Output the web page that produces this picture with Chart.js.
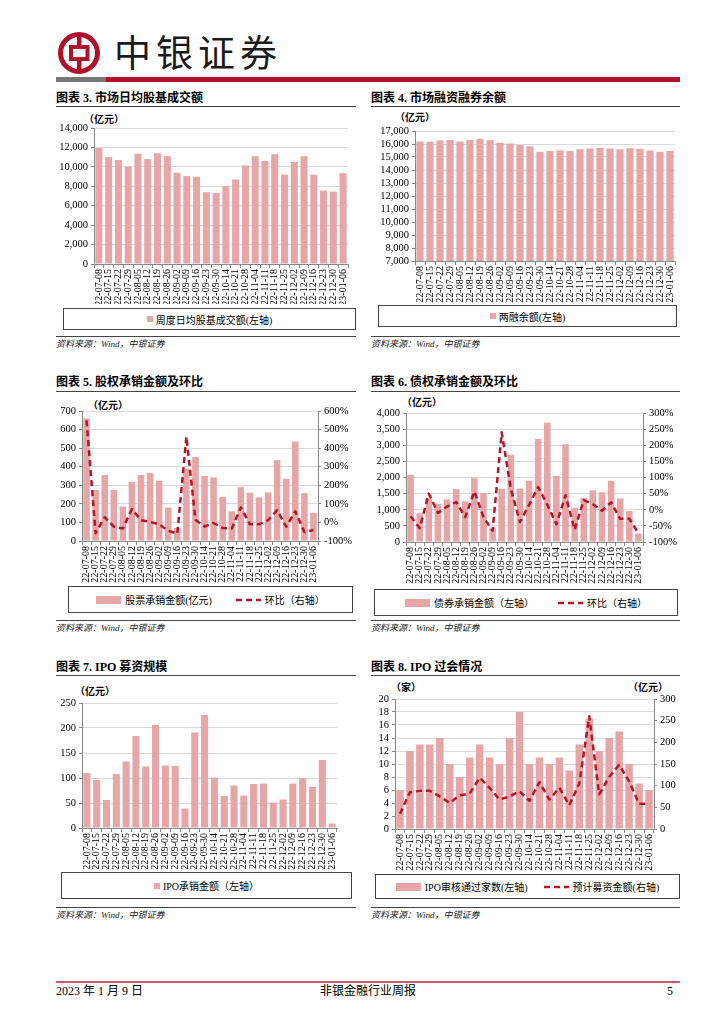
<!DOCTYPE html>
<html>
<head>
<meta charset="utf-8">
<script src="https://cdn.jsdelivr.net/npm/chart.js@4.4.0/dist/chart.umd.min.js"></script>
<style>
body{margin:0;width:724px;height:1024px;position:relative;background:#fff;overflow:hidden;
  font-family:"Liberation Serif","Noto Sans CJK SC",serif;color:#000}
.abs{position:absolute}
.title{font-weight:bold;font-size:12px;line-height:14px;white-space:nowrap}
.rule{height:0;border-top:1px solid #444}
.unit{font-size:10px;font-weight:bold;line-height:12px;white-space:nowrap}
.legend{border:1px solid #444;display:flex;align-items:center;justify-content:center;font-size:10px;box-sizing:border-box;white-space:nowrap}
.legend .sq{display:inline-block;width:6px;height:6px;background:#E6A5A6;margin-right:3px}
.legend .bar{display:inline-block;width:25px;height:8px;background:#E6A5A6;margin-right:4px}
.legend .gap{display:inline-block;width:24px}
.src{font-style:italic;font-size:9px;line-height:11px;color:#222;white-space:nowrap}
canvas{position:absolute}
</style>
</head>
<body>

<!-- header -->
<svg class="abs" style="left:56px;top:30px" width="48" height="46" viewBox="0 0 48 46">
  <circle cx="23" cy="23" r="18.5" fill="none" stroke="#B0102C" stroke-width="5"/>
  <rect x="21" y="3" width="4.5" height="40" fill="#B0102C"/>
  <rect x="15" y="17" width="16.5" height="12" fill="#fff" stroke="#B0102C" stroke-width="4"/>
</svg>
<div class="abs" style="left:114px;top:30px;font-size:37px;line-height:42px;letter-spacing:5px;color:#1a1a1a;font-family:'Noto Sans CJK SC'">中银证券</div>
<div class="abs" style="left:56px;top:77px;width:50px;height:5px;background:#777"></div>
<div class="abs" style="left:106px;top:77px;width:574px;height:5px;background:#B0102C"></div>

<!-- titles -->
<div class="abs title" style="left:56px;top:91px">图表 3. 市场日均股基成交额</div>
<div class="abs title" style="left:371px;top:91px">图表 4. 市场融资融券余额</div>
<div class="abs title" style="left:56px;top:375px">图表 5. 股权承销金额及环比</div>
<div class="abs title" style="left:371px;top:375px">图表 6. 债权承销金额及环比</div>
<div class="abs title" style="left:56px;top:660px">图表 7. IPO 募资规模</div>
<div class="abs title" style="left:371px;top:660px">图表 8. IPO 过会情况</div>
<div class="abs rule" style="left:56px;top:106px;width:300px"></div>
<div class="abs rule" style="left:371px;top:106px;width:309px"></div>
<div class="abs rule" style="left:56px;top:391px;width:300px"></div>
<div class="abs rule" style="left:371px;top:391px;width:309px"></div>
<div class="abs rule" style="left:56px;top:675px;width:300px"></div>
<div class="abs rule" style="left:371px;top:675px;width:309px"></div>

<!-- units -->
<div class="abs unit" style="left:84px;top:114px">（亿元）</div>
<div class="abs unit" style="left:395px;top:112px">（亿元）</div>
<div class="abs unit" style="left:88px;top:400px">（亿元）</div>
<div class="abs unit" style="left:402px;top:397px">（亿元）</div>
<div class="abs unit" style="left:75px;top:686px">（亿元）</div>
<div class="abs unit" style="left:391px;top:682px">（家）</div>
<div class="abs unit" style="left:628px;top:682px">（亿元）</div>

<canvas id="c3" width="310" height="194" style="left:50px;top:110px"></canvas>
<canvas id="c4" width="320" height="193" style="left:365px;top:110px"></canvas>
<canvas id="c5" width="310" height="188" style="left:50px;top:395px"></canvas>
<canvas id="c6" width="320" height="189" style="left:365px;top:395px"></canvas>
<canvas id="c7" width="310" height="189" style="left:50px;top:680px"></canvas>
<canvas id="c8" width="320" height="192" style="left:365px;top:680px"></canvas>

<!-- legends -->
<div class="abs legend" style="left:63px;top:308px;width:293px;height:22px"><span class="sq"></span>周度日均股基成交额(左轴)</div>
<div class="abs legend" style="left:378px;top:305px;width:299px;height:22px"><span class="sq"></span>两融余额(左轴)</div>
<div class="abs legend" style="left:68px;top:586px;width:285px;height:27px"><span class="bar"></span>股票承销金额(亿元)<span class="gap"></span>
  <svg width="25" height="6" style="margin-right:4px"><line x1="0" y1="3" x2="25" y2="3" stroke="#B5152B" stroke-width="2.5" stroke-dasharray="6 4"/></svg>环比（右轴）</div>
<div class="abs legend" style="left:374px;top:589px;width:304px;height:27px"><span class="bar"></span>债券承销金额（左轴）<span class="gap"></span>
  <svg width="25" height="6" style="margin-right:4px"><line x1="0" y1="3" x2="25" y2="3" stroke="#B5152B" stroke-width="2.5" stroke-dasharray="6 4"/></svg>环比（右轴）</div>
<div class="abs legend" style="left:61px;top:872px;width:291px;height:27px"><span class="sq"></span>IPO承销金额（左轴）</div>
<div class="abs legend" style="left:375px;top:874px;width:305px;height:25px"><span class="bar"></span>IPO审核通过家数(左轴)<span class="gap" style="width:16px"></span>
  <svg width="25" height="6" style="margin-right:4px"><line x1="0" y1="3" x2="25" y2="3" stroke="#B5152B" stroke-width="2.5" stroke-dasharray="6 4"/></svg>预计募资金额(右轴)</div>

<!-- sources -->
<div class="abs rule" style="left:56px;top:336px;width:300px"></div>
<div class="abs rule" style="left:371px;top:336px;width:309px"></div>
<div class="abs rule" style="left:56px;top:620px;width:300px"></div>
<div class="abs rule" style="left:371px;top:620px;width:309px"></div>
<div class="abs rule" style="left:56px;top:907px;width:300px"></div>
<div class="abs rule" style="left:371px;top:907px;width:309px"></div>
<div class="abs src" style="left:56px;top:339px">资料来源：Wind，中银证券</div>
<div class="abs src" style="left:371px;top:339px">资料来源：Wind，中银证券</div>
<div class="abs src" style="left:56px;top:623px">资料来源：Wind，中银证券</div>
<div class="abs src" style="left:371px;top:623px">资料来源：Wind，中银证券</div>
<div class="abs src" style="left:56px;top:910px">资料来源：Wind，中银证券</div>
<div class="abs src" style="left:371px;top:910px">资料来源：Wind，中银证券</div>

<!-- footer -->
<div class="abs" style="left:56px;top:981px;width:624px;height:2px;background:#C8606C"></div>
<div class="abs" style="left:56px;top:984px;font-size:12px;line-height:14px">2023 年 1 月 9 日</div>
<div class="abs" style="left:320px;top:984px;font-size:12px;line-height:14px">非银金融行业周报</div>
<div class="abs" style="left:667px;top:984px;font-size:12px;line-height:14px">5</div>

<script>
var weeks = ['22-07-08','22-07-15','22-07-22','22-07-29','22-08-05','22-08-12','22-08-19','22-08-26',
  '22-09-02','22-09-09','22-09-16','22-09-23','22-09-30','22-10-14','22-10-21','22-10-28',
  '22-11-04','22-11-11','22-11-18','22-11-25','22-12-02','22-12-09','22-12-16','22-12-23',
  '22-12-30','23-01-06'];

// 图表3 周度日均股基成交额（亿元）
var turnover = [11950,11000,10700,10000,11350,10800,11400,11100,9400,9050,8980,7400,7320,8000,
  8700,10150,11100,10600,11300,9200,10500,11100,9200,7550,7450,9350];
// 图表4 两融余额（亿元）
var margin = [16200,16170,16260,16300,16200,16300,16400,16290,16100,16030,15920,15800,15400,15460,
  15520,15460,15600,15660,15710,15650,15600,15680,15640,15500,15400,15470];
// 图表5 股票承销金额（亿元）及环比（%）
var equityAmt = [660,275,355,275,185,318,355,366,325,180,70,390,452,350,342,238,160,290,260,235,
  262,435,335,535,258,152];
var equityQoq = [550,-58,28,-22,-33,72,12,3,-11,-45,-61,462,15,-22,-3,-30,-33,81,-10,-10,12,66,
  -23,60,-52,-41];
// 图表6 债券承销金额（亿元）及环比（%）
var bondAmt = [2080,890,1330,1190,1320,1640,1260,1980,1520,450,1650,2700,1660,1900,3200,3700,2050,
  3030,1060,1370,1600,1540,1900,1350,960,260];
var bondQoq = [-20,-57,50,-10,10,24,-23,57,-23,-65,240,65,-38,15,70,16,-45,45,-62,30,17,-3,23,
  -28,-28,-73];
// 图表7 IPO承销金额（亿元）
var ipoAmt = [110,96,56,108,133,184,123,206,125,124,39,191,226,101,64,85,65,88,89,51,57,89,100,
  82,136,9];
// 图表8 IPO审核通过家数 / 预计募资金额（亿元）
var ipoCount = [6,12,13,13,14,10,8,11,13,11,10,14,18,10,11,10,11,9,13,17,12,14,15,10,7,6];
var ipoRaise = [35,85,88,88,75,60,78,82,118,95,68,75,87,65,108,68,95,55,105,260,80,120,148,110,
  58,58];

var BAR = '#E6A5A6';
var LINE = '#B5152B';
var AXIS = '#888';

Chart.defaults.font.family = '"Liberation Serif", "Noto Sans CJK SC", serif';
Chart.defaults.font.size = 10;
Chart.defaults.color = '#000';

function comma(v) { return v.toLocaleString('en-US'); }
function pct(v) { return v + '%'; }

function xAxis(h) {
	return {
		ticks: { autoSkip: false, maxRotation: 90, minRotation: 90, padding: 1, font: { size: 10 } },
		grid: { display: true, drawOnChartArea: false, tickLength: 4, color: AXIS },
		border: { color: AXIS },
		afterFit: function(s) { s.height = h; }
	};
}

function yAxis(w, min, max, step, fmt, pos, grid) {
	return {
		position: pos,
		min: min, max: max,
		ticks: { stepSize: step, autoSkip: false, padding: 3, callback: fmt, font: { size: 10.5 } },
		grid: { display: true, drawOnChartArea: grid, color: '#d9d9d9', tickLength: 3, tickColor: AXIS },
		border: { color: AXIS },
		afterFit: function(s) { s.width = w; }
	};
}

function barSet(data, pct) {
	return { type: 'bar', data: data, backgroundColor: BAR, barPercentage: pct, categoryPercentage: 1, order: 2, yAxisID: 'y' };
}

function lineSet(data) {
	return { type: 'line', data: data, borderColor: LINE, borderWidth: 2.5, borderDash: [6, 4],
		borderJoinStyle: 'round', pointRadius: 0, tension: 0, fill: false, order: 1, yAxisID: 'y1' };
}

function draw(id, datasets, scales, padding) {
	new Chart(document.getElementById(id).getContext('2d'), {
		type: 'bar',
		data: { labels: weeks, datasets: datasets },
		options: {
			responsive: false,
			animation: false,
			layout: { padding: padding },
			plugins: { legend: { display: false }, tooltip: { enabled: false } },
			scales: scales
		}
	});
}

draw('c3', [barSet(turnover, 0.72)],
	{ x: xAxis(40), y: yAxis(44, 0, 14000, 2000, comma, 'left', true) },
	{ top: 18, right: 12, left: 0, bottom: 0 });

draw('c4', [barSet(margin, 0.72)],
	{ x: xAxis(42), y: yAxis(50, 7000, 17000, 1000, comma, 'left', true) },
	{ top: 21, right: 10, left: 0, bottom: 0 });

draw('c5', [barSet(equityAmt, 0.72), lineSet(equityQoq)],
	{ x: xAxis(42), y: yAxis(32, 0, 700, 100, comma, 'left', true),
	  y1: yAxis(42, -100, 600, 100, pct, 'right', false) },
	{ top: 16, right: 0, left: 0, bottom: 0 });

draw('c6', [barSet(bondAmt, 0.72), lineSet(bondQoq)],
	{ x: xAxis(42), y: yAxis(41, 0, 4000, 500, comma, 'left', true),
	  y1: yAxis(42, -100, 300, 50, pct, 'right', false) },
	{ top: 18, right: 0, left: 0, bottom: 0 });

draw('c7', [barSet(ipoAmt, 0.72)],
	{ x: xAxis(41), y: yAxis(32, 0, 250, 50, comma, 'left', true) },
	{ top: 23, right: 23, left: 0, bottom: 0 });

draw('c8', [barSet(ipoCount, 0.75), lineSet(ipoRaise)],
	{ x: xAxis(43), y: yAxis(30, 0, 20, 2, comma, 'left', true),
	  y1: yAxis(31, 0, 300, 50, comma, 'right', false) },
	{ top: 19, right: 0, left: 0, bottom: 0 });
</script>
</body>
</html>
